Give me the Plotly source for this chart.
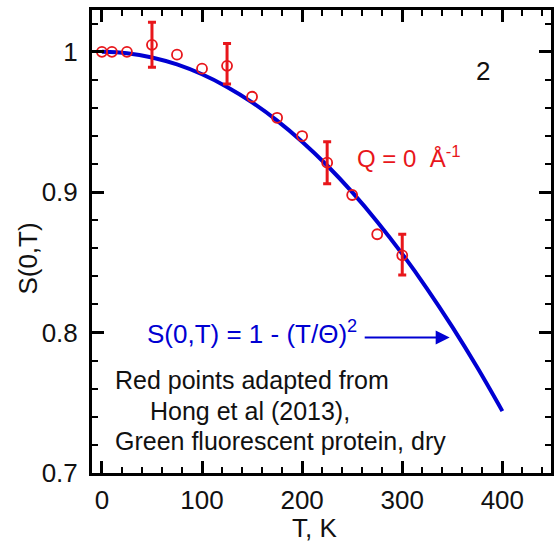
import plotly.graph_objects as go

# Red data points (Hong et al 2013, GFP dry), Q = 0
T_pts = [0, 10, 25, 50, 75, 100, 125, 150, 175, 200, 225, 250, 275, 300]
S_pts = [1.000, 1.000, 1.000, 1.005, 0.998, 0.988, 0.990, 0.968, 0.953, 0.940, 0.921, 0.898, 0.870, 0.855]
err_plus = [0, 0, 0, 0.016, 0, 0, 0.016, 0, 0, 0, 0.015, 0, 0, 0.015]
err_minus = [0, 0, 0, 0.016, 0, 0, 0.013, 0, 0, 0, 0.015, 0, 0, 0.014]

# Blue curve S(0,T) = 1 - (T/Theta)^2
T_curve = [0, 25, 50, 75, 100, 125, 150, 175, 200, 225, 250, 275, 300, 325, 350, 375, 400]
S_curve = [1.000, 0.999, 0.996, 0.991, 0.984, 0.975, 0.964, 0.951, 0.936, 0.919,
           0.900, 0.879, 0.856, 0.831, 0.804, 0.775, 0.744]

x_ticks = [0, 100, 200, 300, 400]
y_ticks = [0.7, 0.8, 0.9, 1.0]
y_tick_labels = ["0.7", "0.8", "0.9", "1"]

RED = "#e8161b"
BLUE = "#0000d2"
FONT = "Liberation Sans, Arial, sans-serif"

# only points that carry an error bar
idx = [i for i in range(len(T_pts)) if err_plus[i] > 0 or err_minus[i] > 0]

fig = go.Figure()
fig.add_trace(go.Scatter(
    x=T_curve, y=S_curve, mode="lines",
    line=dict(color=BLUE, width=4, shape="spline"),
    showlegend=False, hoverinfo="skip"))
fig.add_trace(go.Scatter(
    x=[T_pts[i] for i in idx], y=[S_pts[i] for i in idx], mode="markers",
    marker=dict(size=1, color="rgba(0,0,0,0)"),
    error_y=dict(type="data", symmetric=False,
                 array=[err_plus[i] for i in idx], arrayminus=[err_minus[i] for i in idx],
                 color=RED, thickness=3, width=4),
    showlegend=False, hoverinfo="skip"))
fig.add_trace(go.Scatter(
    x=T_pts, y=S_pts, mode="markers",
    marker=dict(symbol="circle-open", size=10, color=RED, line=dict(width=1.8, color=RED)),
    showlegend=False))

axis_common = dict(
    showline=True, linecolor="black", linewidth=3, mirror="allticks",
    ticks="inside", ticklen=12, tickwidth=3, tickcolor="black",
    showgrid=False, zeroline=False,
    tickfont=dict(family=FONT, size=26, color="#111"),
)

fig.update_xaxes(range=[-9.9, 448.6], tickvals=x_ticks,
                 minor=dict(dtick=20, ticks="inside", ticklen=6, tickwidth=2, tickcolor="black"),
                 ticklabelstandoff=2, **axis_common)
fig.update_yaxes(range=[0.6999, 1.0298], tickvals=y_ticks, ticktext=y_tick_labels,
                 minor=dict(dtick=0.02, ticks="inside", ticklen=6, tickwidth=2, tickcolor="black"),
                 ticklabelstandoff=6, **axis_common)

annotations = [
    dict(text="S(0,T)", xref="paper", yref="paper", x=-0.1385, y=0.464, textangle=-90,
         showarrow=False, font=dict(family=FONT, size=26, color="#111"),
         xanchor="center", yanchor="middle"),
    dict(text="T, K", xref="paper", yref="paper", x=0.485, y=-0.119,
         showarrow=False, font=dict(family=FONT, size=26, color="#111"),
         xanchor="center", yanchor="middle"),
    dict(text="2", x=381, y=0.986, xref="x", yref="y", showarrow=False,
         font=dict(family=FONT, size=26, color="#111"), xanchor="center", yanchor="middle"),
    dict(text="Q = 0  Å<sup>-1</sup>", x=253, y=0.925, xref="x", yref="y", showarrow=False,
         font=dict(family=FONT, size=24, color=RED), xanchor="left", yanchor="middle"),
    dict(text="S(0,T) = 1 - (T/Θ)<sup>2</sup>", x=42.7, y=0.800, xref="x", yref="y",
         showarrow=False, font=dict(family=FONT, size=26, color=BLUE),
         xanchor="left", yanchor="middle"),
    dict(text="", x=347.4, y=0.7965, ax=261, ay=0.7965, xref="x", yref="y",
         axref="x", ayref="y", showarrow=True, arrowhead=2, arrowsize=1.4,
         arrowwidth=2, arrowcolor=BLUE, standoff=0),
    dict(text="Red points adapted from", x=10.9, y=0.766, xref="x", yref="y",
         showarrow=False, font=dict(family=FONT, size=25, color="#111"),
         xanchor="left", yanchor="middle"),
    dict(text="Hong et al (2013),", x=45.7, y=0.744, xref="x", yref="y",
         showarrow=False, font=dict(family=FONT, size=25, color="#111"),
         xanchor="left", yanchor="middle"),
    dict(text="Green fluorescent protein, dry", x=10.9, y=0.7227, xref="x", yref="y",
         showarrow=False, font=dict(family=FONT, size=25, color="#111"),
         xanchor="left", yanchor="middle"),
]

fig.update_layout(
    width=558, height=546, autosize=False,
    margin=dict(l=92, r=4, t=10, b=73),
    plot_bgcolor="white", paper_bgcolor="white",
    annotations=annotations,
    font=dict(family=FONT),
)

fig.write_html(
    "out.html",
    config={"displayModeBar": False},
    post_script="document.body.style.margin='0';document.body.style.overflow='hidden';",
)
